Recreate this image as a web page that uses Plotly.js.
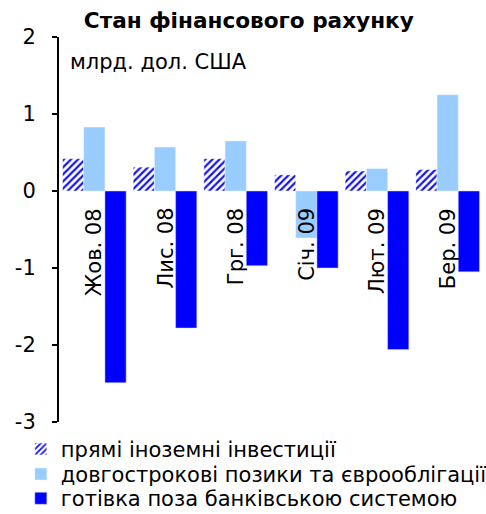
<!DOCTYPE html>
<html>
<head>
<meta charset="utf-8">
<script src="https://cdn.plot.ly/plotly-3.0.1.min.js"></script>
<style>html,body{margin:0;padding:0;background:#fff;}#chart{width:486px;height:514px;}</style>
</head>
<body>
<div id="chart"></div>
<script>
var categories = ["Жов. 08", "Лис. 08", "Грг. 08", "Січ. 09", "Лют. 09", "Бер. 09"];
var fdi = [0.42, 0.31, 0.42, 0.21, 0.26, 0.28];
var loans = [0.83, 0.57, 0.65, -0.61, 0.29, 1.25];
var cash = [-2.49, -1.78, -0.97, -1.00, -2.06, -1.05];
var seriesNames = ["прямі іноземні інвестиції", "довгострокові позики та єврооблігації", "готівка поза банківською системою"];
var yTicks = [-3, -2, -1, 0, 1, 2];

var FONT = "DejaVu Sans, Verdana, sans-serif";

var traces = [
  {type: "bar", name: seriesNames[0], x: categories, y: fdi, legend: "legend",
   marker: {color: "#ffffff", line: {color: "#ffffff", width: 0.5},
            pattern: {shape: "/", fgcolor: "#1414ee", bgcolor: "#ffffff", size: 5, solidity: 0.45}}},
  {type: "bar", name: seriesNames[1], x: categories, y: loans, legend: "legend2",
   marker: {color: "#99ccff", line: {color: "#e8f2ff", width: 0.5}}},
  {type: "bar", name: seriesNames[2], x: categories, y: cash, legend: "legend3",
   marker: {color: "#0000ff", line: {color: "#d0d0ff", width: 0.5}}}
];

var annotations = categories.map(function (c) {
  return {x: c, y: 0, xref: "x", yref: "y", text: c, showarrow: false,
          textangle: -90, xanchor: "center", yanchor: "top", yshift: -15,
          font: {family: FONT, size: 21, color: "#000"}};
});
annotations.push({xref: "paper", yref: "paper", x: 0.022, y: 0.934, xanchor: "left", yanchor: "middle",
  text: "млрд. дол. США", showarrow: false, font: {family: FONT, size: 21, color: "#000"}});

function legendAt(yPaper) {
  return {x: -0.09, xanchor: "left", y: yPaper, yanchor: "middle", orientation: "v",
          font: {family: FONT, size: 21, color: "#000"}, bgcolor: "rgba(0,0,0,0)",
          tracegroupgap: 0, itemwidth: 30};
}

var layout = {
  width: 486, height: 514,
  margin: {l: 59, r: 3, t: 37, b: 92, pad: 0, autoexpand: false},
  paper_bgcolor: "#fff", plot_bgcolor: "#fff",
  font: {family: FONT, size: 20, color: "#000"},
  title: {text: "<b>Стан фінансового рахунку</b>", xref: "container", yref: "container",
          x: 0.512, xanchor: "center", y: 1 - 20/514, yanchor: "middle",
          font: {family: FONT, size: 21.6, color: "#000"}},
  barmode: "group", bargap: 0.1, bargroupgap: 0,
  showlegend: true,
  legend: legendAt(-0.071),
  legend2: legendAt(-0.136),
  legend3: legendAt(-0.199),
  xaxis: {showticklabels: false, showline: false, ticks: "", showgrid: false, zeroline: false,
          fixedrange: true},
  yaxis: {range: [-3, 2], tickvals: yTicks, ticktext: yTicks.map(String),
          showline: true, linecolor: "#000", linewidth: 2, ticks: "outside", ticklen: 5,
          tickwidth: 1.5, tickcolor: "#000", showgrid: false, zeroline: false,
          tickfont: {family: FONT, size: 21, color: "#000"}, ticklabelstandoff: 12},
  annotations: annotations
};

Plotly.newPlot("chart", traces, layout, {displayModeBar: false, staticPlot: true});
</script>
</body>
</html>
